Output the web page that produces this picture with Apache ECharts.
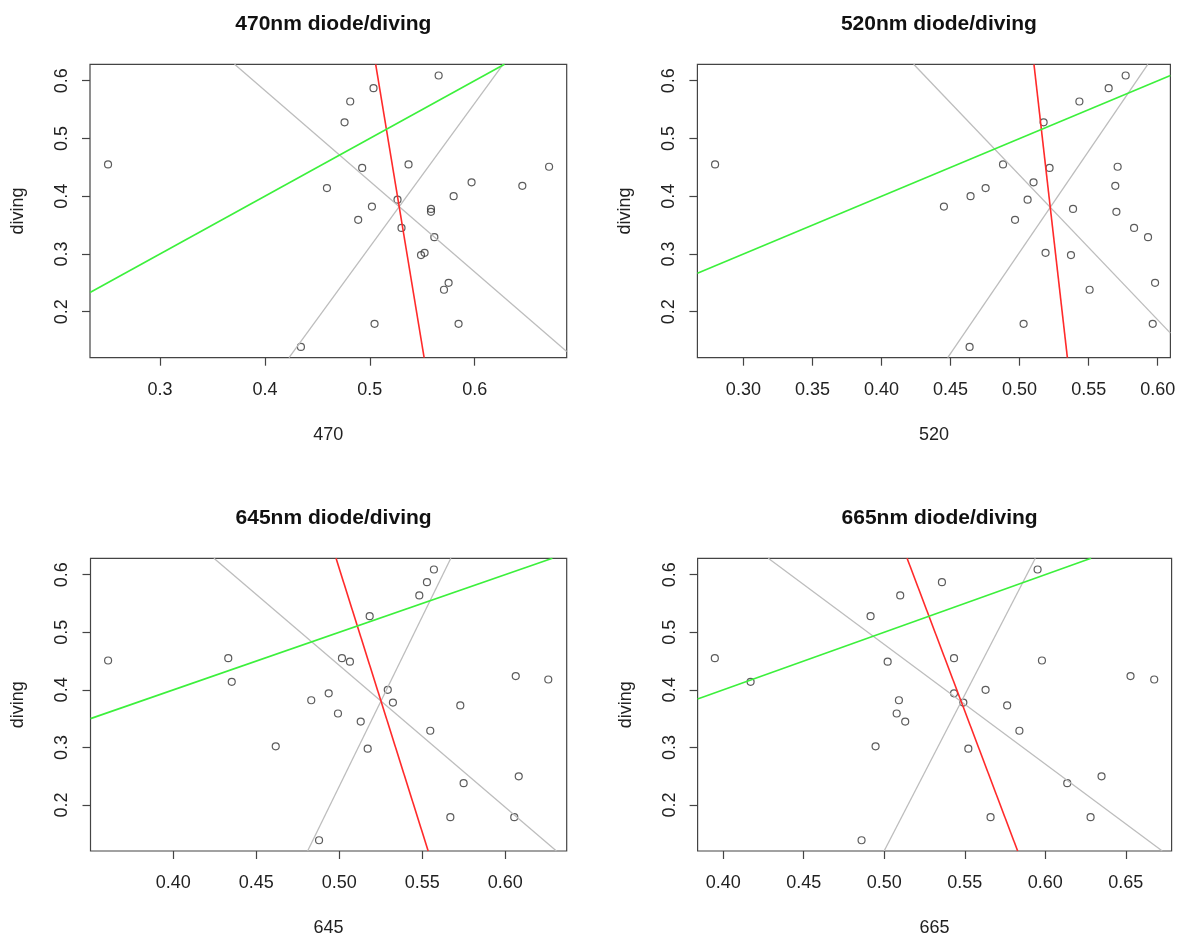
<!DOCTYPE html>
<html>
<head>
<meta charset="utf-8">
<title>diode / diving</title>
<script src="https://cdn.jsdelivr.net/npm/echarts@6/dist/echarts.min.js"></script>
<style>
  html, body { margin: 0; padding: 0; background: #ffffff; }
  #chart { width: 1184px; height: 941px; }
</style>
</head>
<body>
<div id="chart"></div>
<script>
// Shared response variable (same for every panel)
const diving = [0.609, 0.587, 0.564, 0.528, 0.455, 0.455, 0.451, 0.449, 0.424, 0.418,
                0.414, 0.400, 0.394, 0.382, 0.378, 0.373, 0.359, 0.345, 0.329, 0.302,
                0.298, 0.250, 0.238, 0.179, 0.179, 0.139];

// Diode readings, one array per wavelength, in the same order as diving
const x470 = [0.5656, 0.5035, 0.4813, 0.4759, 0.5369, 0.2504, 0.6709, 0.4927, 0.5970, 0.6454,
              0.4591, 0.5799, 0.5264, 0.5020, 0.5583, 0.5583, 0.4889, 0.5302, 0.5615, 0.5522,
              0.5488, 0.5751, 0.5707, 0.5045, 0.5846, 0.4343];
const x520 = [0.5768, 0.5645, 0.5433, 0.5174, 0.4880, 0.2795, 0.5710, 0.5217, 0.5101, 0.5693,
              0.4754, 0.4645, 0.5058, 0.4452, 0.5387, 0.5701, 0.4967, 0.5829, 0.5930, 0.5188,
              0.5372, 0.5981, 0.5507, 0.5029, 0.5964, 0.4638];
const x645 = [0.5570, 0.5528, 0.5482, 0.5183, 0.4331, 0.5016, 0.3607, 0.5064, 0.6063, 0.6259,
              0.4352, 0.5292, 0.4936, 0.4831, 0.5323, 0.5729, 0.4992, 0.5129, 0.5548, 0.4617,
              0.5171, 0.6081, 0.5749, 0.5669, 0.6054, 0.4878];
const x665 = [0.5952, 0.5358, 0.5099, 0.4915, 0.3948, 0.5433, 0.5979, 0.5021, 0.6529, 0.6676,
              0.4170, 0.5629, 0.5433, 0.5091, 0.5491, 0.5763, 0.5077, 0.5130, 0.5839, 0.4946,
              0.5522, 0.6349, 0.6136, 0.5660, 0.6281, 0.4859];

// Reference lines per panel as [intercept, slope]
const red470 = [6.1898, -11.0],  greyA470 = [1.2113, -1.571], greyB470 = [-0.9329, 2.490];
const red520 = [11.347, -21.0],  greyA520 = [1.6883, -2.504], greyB520 = [-1.4507, 3.507];
const red645 = [5.1853, -9.15],  greyA645 = [1.6734, -2.462], greyB645 = [-2.7112, 5.888];
const red665 = [4.4332, -7.40],  greyA665 = [1.5173, -2.077], greyB665 = [-2.5857, 5.413];
const identity = [0, 1];

// Axis ranges and tick labels
const xRange470 = [0.2332, 0.6877], xTicks470 = ['0.3', '0.4', '0.5', '0.6'];
const xRange520 = [0.2667, 0.6092], xTicks520 = ['0.30', '0.35', '0.40', '0.45', '0.50', '0.55', '0.60'];
const xRange645 = [0.3501, 0.6370], xTicks645 = ['0.40', '0.45', '0.50', '0.55', '0.60'];
const xRange665 = [0.3841, 0.6784], xTicks665 = ['0.40', '0.45', '0.50', '0.55', '0.60', '0.65'];
const yRange = [0.1203, 0.6284], yTicks = ['0.2', '0.3', '0.4', '0.5', '0.6'];

const titles = ['470nm diode/diving', '520nm diode/diving', '645nm diode/diving', '665nm diode/diving'];
const xNames = ['470', '520', '645', '665'];

const FONT = "'Liberation Sans', Arial, sans-serif";
const INK = '#222222';
const FRAME = '#444444';

const panels = [
  { xs: x470, xr: xRange470, xt: xTicks470, lines: [red470, greyA470, greyB470],
    grid: { left: 90, top: 64.3, width: 476.7, height: 293.4 } },
  { xs: x520, xr: xRange520, xt: xTicks520, lines: [red520, greyA520, greyB520],
    grid: { left: 697.4, top: 64.3, width: 473, height: 293.4 } },
  { xs: x645, xr: xRange645, xt: xTicks645, lines: [red645, greyA645, greyB645],
    grid: { left: 90.5, top: 558.3, width: 476.2, height: 292.7 } },
  { xs: x665, xr: xRange665, xt: xTicks665, lines: [red665, greyA665, greyB665],
    grid: { left: 697.6, top: 558.3, width: 474, height: 292.7 } }
];

// Segment of y = a + b x clipped to the plotting window
function clipLine(ab, xr, yr) {
  const a = ab[0], b = ab[1];
  let x0 = xr[0], x1 = xr[1];
  if (b !== 0) {
    const xa = (yr[0] - a) / b, xb = (yr[1] - a) / b;
    x0 = Math.max(x0, Math.min(xa, xb));
    x1 = Math.min(x1, Math.max(xa, xb));
  }
  return [[x0, a + b * x0], [x1, a + b * x1]];
}

function labelFor(list) {
  return function (v) {
    let best = list[0], d = Infinity;
    list.forEach(s => { const dd = Math.abs(parseFloat(s) - v); if (dd < d) { d = dd; best = s; } });
    return best;
  };
}

const grid = [], xAxis = [], yAxis = [], series = [], title = [];

panels.forEach((p, i) => {
  grid.push(Object.assign({ show: true, borderColor: FRAME, borderWidth: 1.2, backgroundColor: 'transparent' }, p.grid));

  title.push({
    text: titles[i],
    left: p.grid.left + p.grid.width / 2,
    top: p.grid.top - 56,
    textAlign: 'center',
    textStyle: { fontFamily: FONT, fontWeight: 'bold', fontSize: 21, color: '#111' }
  });

  const xv = p.xt.map(parseFloat);
  xAxis.push({
    gridIndex: i, type: 'value', min: p.xr[0], max: p.xr[1],
    name: xNames[i], nameLocation: 'middle', nameGap: 68,
    nameTextStyle: { fontFamily: FONT, fontSize: 18, color: INK },
    axisLine: { show: false },
    splitLine: { show: false },
    axisTick: { show: true, customValues: xv, length: 8, lineStyle: { color: FRAME, width: 1.2 } },
    axisLabel: { customValues: xv, formatter: labelFor(p.xt), margin: 23,
                 fontFamily: FONT, fontSize: 18, color: INK }
  });

  const yv = yTicks.map(parseFloat);
  yAxis.push({
    gridIndex: i, type: 'value', min: yRange[0], max: yRange[1],
    name: 'diving', nameLocation: 'middle', nameGap: 63, nameRotate: 90,
    nameTextStyle: { fontFamily: FONT, fontSize: 18, color: INK },
    axisLine: { show: false },
    splitLine: { show: false },
    axisTick: { show: true, customValues: yv, length: 8, lineStyle: { color: FRAME, width: 1.2 } },
    axisLabel: { customValues: yv, formatter: labelFor(yTicks), margin: 19, rotate: 90,
                 fontFamily: FONT, fontSize: 18, color: INK }
  });

  series.push({
    type: 'scatter', xAxisIndex: i, yAxisIndex: i,
    data: p.xs.map((x, k) => [x, diving[k]]),
    symbol: 'circle', symbolSize: 7,
    itemStyle: { color: 'rgba(0,0,0,0)', borderColor: '#333', borderWidth: 1.2 },
    silent: true, z: 2
  });

  const lineStyles = [
    { color: '#ff2a2a', width: 1.6 },
    { color: '#bdbdbd', width: 1.3 },
    { color: '#bdbdbd', width: 1.3 }
  ];
  p.lines.forEach((ab, k) => {
    series.push({
      type: 'line', xAxisIndex: i, yAxisIndex: i,
      data: clipLine(ab, p.xr, yRange), showSymbol: false, clip: true,
      lineStyle: lineStyles[k], silent: true, z: k === 0 ? 4 : 3, animation: false
    });
  });
  series.push({
    type: 'line', xAxisIndex: i, yAxisIndex: i,
    data: clipLine(identity, p.xr, yRange), showSymbol: false, clip: true,
    lineStyle: { color: '#3cf03c', width: 1.6 }, silent: true, z: 4, animation: false
  });
});

const chart = echarts.init(document.getElementById('chart'), null, { renderer: 'canvas' });
chart.setOption({
  animation: false,
  backgroundColor: '#ffffff',
  title, grid, xAxis, yAxis, series
});
</script>
</body>
</html>
